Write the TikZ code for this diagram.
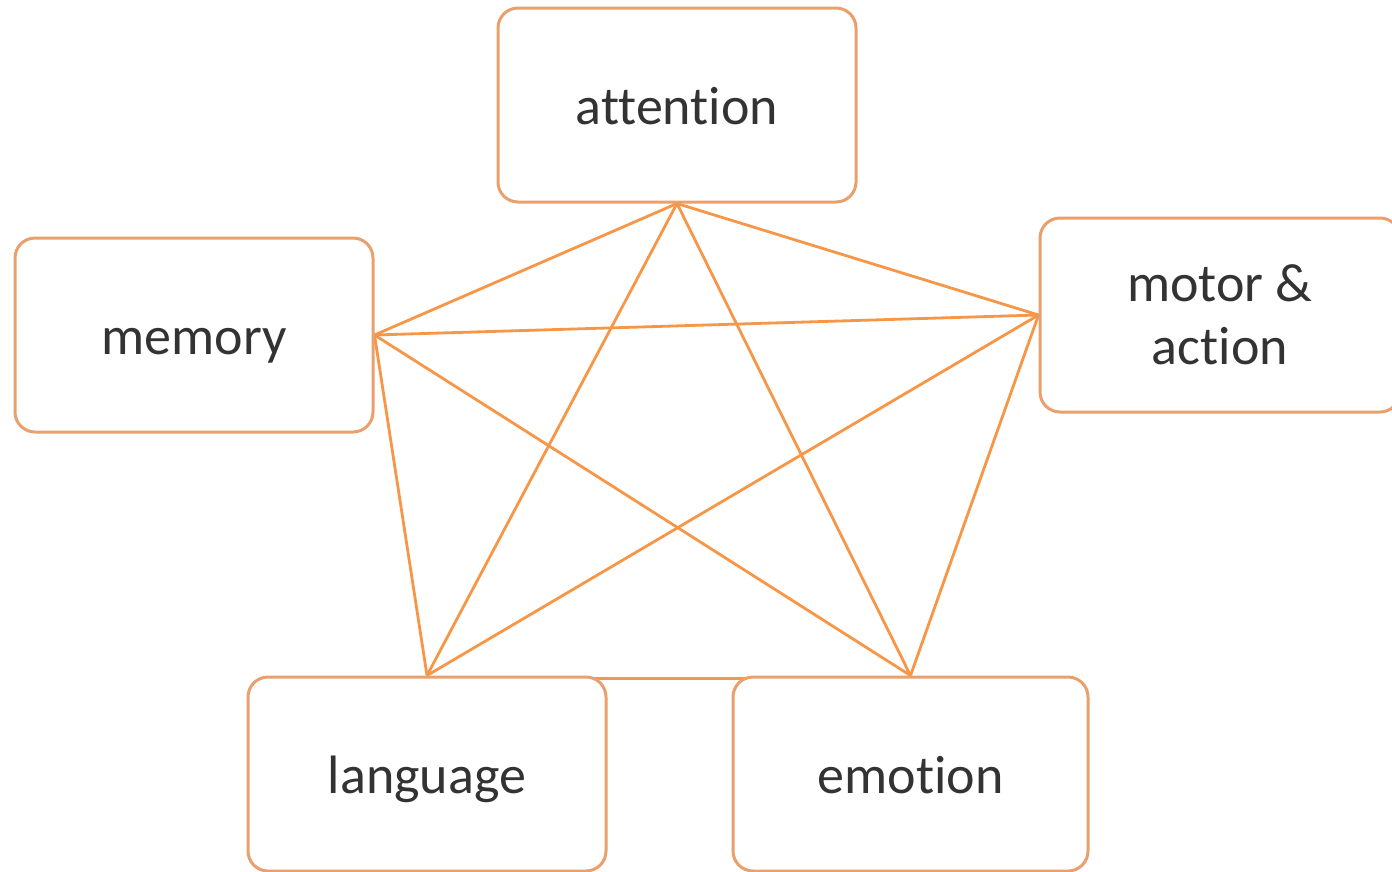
\documentclass[tikz,border=0pt]{standalone}
\usepackage{fontspec}
\setmainfont{Carlito}[Ligatures=NoCommon]
\usetikzlibrary{backgrounds}
\definecolor{boxline}{HTML}{E9A06C}
\definecolor{linkline}{HTML}{F79646}
\begin{document}
\begin{tikzpicture}[x=1pt,y=-1pt,
  concept/.style={draw=boxline, line width=3pt, rounded corners=20pt, fill=white,
    minimum width=358pt, minimum height=194pt, align=center,
    font=\fontsize{54}{63}\selectfont, text=black!80, inner sep=0pt},
  oneline/.style={text height=42pt, text depth=3pt},
  link/.style={draw=linkline, line width=2.8pt}]
\useasboundingbox (0,0) rectangle (1392,871);
\node[concept, oneline] (attention) at (677,105) {attention};
\node[concept, oneline] (memory) at (194,335) {memory};
\node[concept, minimum width=360pt] (motor) at (1220,315) {motor \&\\action};
\node[concept, oneline] (language) at (427,774) {language};
\node[concept, oneline, minimum width=355pt] (emotion) at (910.5,774) {emotion};
\begin{scope}[on background layer]
\draw[link] (attention.south) -- (memory.east);
\draw[link] (attention.south) -- (motor.west);
\draw[link] (attention.south) -- (language.north);
\draw[link] (attention.south) -- (emotion.north);
\draw[link] (memory.east) -- (motor.west);
\draw[link] (memory.east) -- (language.north);
\draw[link] (memory.east) -- (emotion.north);
\draw[link] (motor.west) -- (language.north);
\draw[link] (motor.west) -- (emotion.north);
\draw[link] ([yshift=-3pt]language.north) -- ([yshift=-3pt]emotion.north);
\end{scope}
\end{tikzpicture}
\end{document}
